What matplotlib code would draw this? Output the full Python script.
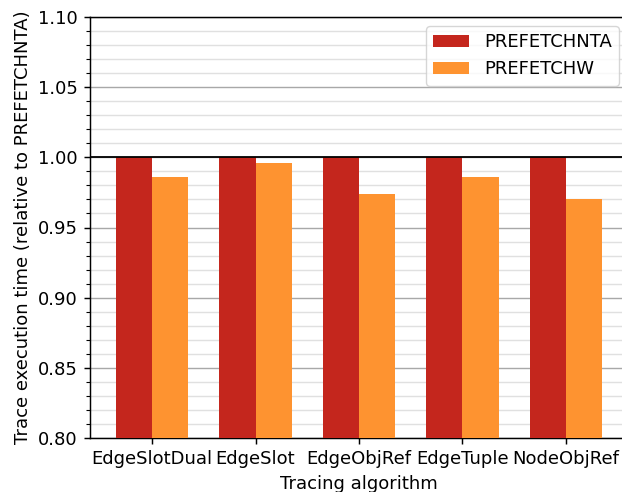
import matplotlib
matplotlib.use("Agg")
import matplotlib.pyplot as plt
import numpy as np
from matplotlib.ticker import MultipleLocator

algorithms = ["EdgeSlotDual", "EdgeSlot", "EdgeObjRef", "EdgeTuple", "NodeObjRef"]
prefetchnta = [1.000, 1.000, 1.000, 1.000, 1.000]
prefetchw = [0.986, 0.996, 0.974, 0.986, 0.970]

plt.rcParams.update({
    "font.size": 13,
    "axes.linewidth": 1.05,
    "xtick.major.size": 4.5,
    "ytick.major.size": 4.5,
    "xtick.major.width": 1.05,
    "ytick.major.width": 1.05,
    "ytick.minor.size": 2.6,
    "ytick.minor.width": 0.8,
    "xtick.major.pad": 4.5,
    "ytick.major.pad": 4.5,
})

fig = plt.figure(figsize=(6.22, 4.92), dpi=100)
# the plotting area runs slightly past the right edge of the canvas
ax = fig.add_axes([90 / 622, 1 - 438 / 492, 538 / 622, 421 / 492])
ax.spines["right"].set_visible(False)

x = np.arange(len(algorithms))
w = 0.35
ax.bar(x - w / 2, prefetchnta, w, color="#c4261d", label="PREFETCHNTA", zorder=3)
ax.bar(x + w / 2, prefetchw, w, color="#fe9330", label="PREFETCHW", zorder=3)

ax.axhline(1.0, color="black", linewidth=1.3, zorder=4)

ax.set_xlim(-0.6, len(algorithms) - 0.4)
ax.set_ylim(0.80, 1.10)
ax.yaxis.set_major_locator(MultipleLocator(0.05))
ax.yaxis.set_minor_locator(MultipleLocator(0.01))
ax.grid(axis="y", which="major", color="#a8a8a8", linewidth=1.0, zorder=0)
ax.grid(axis="y", which="minor", color="#e0e0e0", linewidth=1.0, zorder=0)
ax.set_axisbelow(True)

ax.set_xticks(x)
ax.set_xticklabels(algorithms)
ax.set_xlabel("Tracing algorithm", labelpad=5)
ax.set_ylabel("Trace execution time (relative to PREFETCHNTA)")

ax.legend(loc="upper right")

fig.savefig("out.png", dpi=100)
